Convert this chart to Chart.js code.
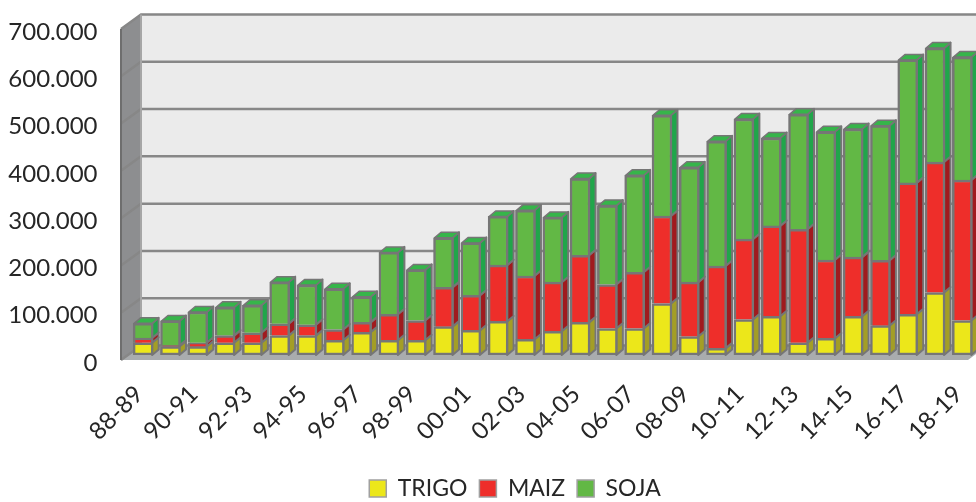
<!DOCTYPE html>
<html lang="es">
<head>
<meta charset="UTF-8">
<title>Produccion TRIGO MAIZ SOJA</title>
<script src="https://cdn.jsdelivr.net/npm/chart.js"></script>
<style>
  html, body { margin: 0; padding: 0; background: #fff; overflow: hidden; }
  canvas { display: block; }
</style>
</head>
<body>
<canvas id="cropChart" width="976" height="502"></canvas>
<script>
  const campaigns = ['88-89','89-90','90-91','91-92','92-93','93-94','94-95','95-96','96-97','97-98','98-99',
    '99-00','00-01','01-02','02-03','03-04','04-05','05-06','06-07','07-08','08-09','09-10','10-11','11-12',
    '12-13','13-14','14-15','15-16','16-17','17-18','18-19'];

  const trigo = [26000,18000,18000,26000,26000,41000,41000,31000,48000,31000,31000,60000,52000,71000,33000,50000,
    69000,56000,56000,109000,39000,14000,75000,82000,26000,35000,82000,62000,86000,132000,73000];
  const maiz = [10000,2000,8000,15000,21000,25000,23000,23000,21000,55000,42000,83000,74000,119000,134000,104000,
    142000,93000,119000,185000,115000,174000,170000,191000,240000,166000,125000,138000,278000,276000,297000];
  const soja = [31000,52000,65000,60000,58000,88000,84000,86000,54000,131000,107000,105000,111000,103000,139000,137000,
    162000,167000,205000,213000,243000,264000,254000,186000,243000,271000,271000,285000,260000,241000,260000];

  const frameColor = '#767676';
  const textColor = '#262626';
  const sideColors = ['#A39E26', '#A01A1E', '#20A64A'];
  const topGreen = '#36B54A';

  function poly(ctx, pts, fill, stroke, lw) {
    ctx.beginPath();
    pts.forEach((p, i) => i ? ctx.lineTo(p[0], p[1]) : ctx.moveTo(p[0], p[1]));
    ctx.closePath();
    ctx.fillStyle = fill;
    ctx.fill();
    if (stroke) {
      ctx.strokeStyle = stroke;
      ctx.lineWidth = lw;
      ctx.lineJoin = 'round';
      ctx.stroke();
    }
  }

  // back wall, side wall, floor and the depth faces of the bars
  const depthPlugin = {
    id: 'depth',
    afterLayout(chart) {
      // the legend sits right of centre and close to the bottom edge
      chart.legend.left += 27;
      chart.legend.right += 27;
      chart.legend.top += 8;
      chart.legend.bottom += 8;
    },
    beforeDatasetsDraw(chart) {
      const ctx = chart.ctx;
      const yScale = chart.scales.y;
      const left = chart.chartArea.left;
      const W = chart.width;
      const backX = left + 11.5, frontX = left - 8.5;
      const topY = yScale.getPixelForValue(700000), zeroY = yScale.getPixelForValue(0);
      const back = py => py - 9.5, front = py => py + 5;

      ctx.save();
      poly(ctx, [[backX, back(topY)], [W + 2, back(topY)], [W + 2, back(zeroY)], [backX, back(zeroY)]], '#EBEBEB');
      poly(ctx, [[frontX, front(topY)], [backX, back(topY)], [backX, back(zeroY)], [frontX, front(zeroY)]], '#8D8E90');
      poly(ctx, [[frontX, front(zeroY)], [W - 8, front(zeroY)], [W, front(zeroY) - 6], [W, back(zeroY)], [backX, back(zeroY)]], '#A9ACAE');

      yScale.ticks.forEach(t => {
        const py = yScale.getPixelForValue(t.value);
        ctx.beginPath();
        ctx.moveTo(frontX, front(py));
        ctx.lineTo(backX, back(py));
        ctx.lineTo(W, back(py));
        ctx.strokeStyle = '#878787';
        ctx.lineWidth = 2.5;
        ctx.stroke();
      });
      ctx.beginPath();
      ctx.moveTo(frontX, front(zeroY));
      ctx.lineTo(frontX, front(topY));
      ctx.strokeStyle = '#6E6E6E';
      ctx.lineWidth = 2;
      ctx.stroke();
      ctx.beginPath();
      ctx.moveTo(backX, back(topY));
      ctx.lineTo(backX, back(zeroY));
      ctx.strokeStyle = '#A6A6A6';
      ctx.lineWidth = 2;
      ctx.stroke();

      const dx = 6.5, dy = 5.5;
      chart.data.datasets.forEach((ds, d) => {
        chart.getDatasetMeta(d).data.forEach(bar => {
          const r = bar.x + bar.width / 2 - 1;
          const l = bar.x - bar.width / 2 + 1;
          poly(ctx, [[r, bar.y], [r + dx, bar.y - dy], [r + dx, bar.base - dy], [r, bar.base]], sideColors[d], frameColor, 2);
          if (d === chart.data.datasets.length - 1) {
            poly(ctx, [[l, bar.y], [l + dx, bar.y - dy], [r + dx, bar.y - dy], [r, bar.y]], topGreen, frameColor, 1.5);
          }
        });
      });
      ctx.restore();
    }
  };

  new Chart(document.getElementById('cropChart'), {
    type: 'bar',
    plugins: [depthPlugin],
    data: {
      labels: campaigns,
      datasets: [
        { label: 'TRIGO', data: trigo, backgroundColor: '#ECE71A', borderSkipped: false },
        { label: 'MAIZ', data: maiz, backgroundColor: '#EE2E2A' },
        { label: 'SOJA', data: soja, backgroundColor: '#62B845' }
      ]
    },
    options: {
      responsive: false,
      animation: false,
      layout: { padding: { top: 24, left: 0, right: 0, bottom: 0 } },
      datasets: { bar: { barThickness: 20, borderWidth: 2.5, borderColor: frameColor } },
      scales: {
        x: {
          stacked: true,
          afterFit(scale) { scale.height = 102; scale.paddingLeft = 0; scale.paddingRight = 0; },
          grid: { display: false, drawTicks: false },
          border: { display: false },
          ticks: {
            autoSkip: false,
            minRotation: 45,
            maxRotation: 45,
            padding: 25,
            labelOffset: -4,
            color: textColor,
            font: { family: 'Lato', size: 24 },
            callback(value, index) { return index % 2 ? '' : this.getLabelForValue(value); }
          }
        },
        y: {
          stacked: true,
          min: 0,
          max: 700000,
          afterFit(scale) { scale.width = 129.5; scale.paddingTop = 0; scale.paddingBottom = 0; },
          grid: { display: false, drawTicks: false },
          border: { display: false },
          ticks: {
            stepSize: 100000,
            padding: 32,
            labelOffset: 8,
            color: textColor,
            font: { family: 'Lato', size: 24 },
            callback(value) { return value.toLocaleString('de-DE'); }
          }
        }
      },
      plugins: {
        tooltip: { enabled: false },
        legend: {
          position: 'bottom',
          labels: {
            boxWidth: 17,
            boxHeight: 17,
            padding: 12,
            color: textColor,
            font: { family: 'Lato', size: 23 },
            generateLabels(chart) {
              return chart.data.datasets.map((ds, i) => ({
                text: ds.label, fillStyle: ds.backgroundColor, strokeStyle: '#A0A0A0', lineWidth: 1.5,
                fontColor: textColor, datasetIndex: i
              }));
            }
          }
        }
      }
    }
  });
</script>
</body>
</html>
